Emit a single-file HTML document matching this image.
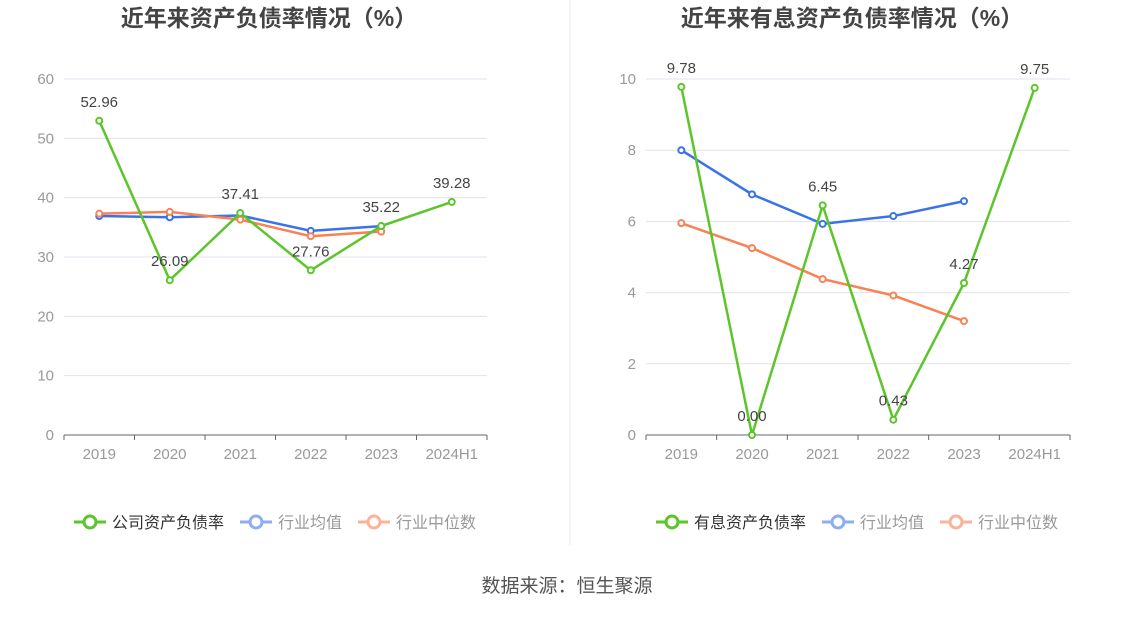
<!DOCTYPE html>
<html><head><meta charset="utf-8"><style>
body{margin:0;background:#fff;font-family:"Liberation Sans","Noto Sans CJK SC",sans-serif;}
svg text{font-family:"Liberation Sans","Noto Sans CJK SC",sans-serif;}
</style></head><body>
<svg id="s" width="1134" height="612" xmlns="http://www.w3.org/2000/svg">
<line x1="570" y1="0" x2="570" y2="545" stroke="#e8e8e8"/>
<text x="567" y="592" text-anchor="middle" font-size="19" fill="#555">数据来源：恒生聚源</text>
</svg>
<script>
const categories=["2019","2020","2021","2022","2023","2024H1"];
const leftMain=[52.96,26.09,37.41,27.76,35.22,39.28];
const leftAvg=[36.9,36.7,37.0,34.4,35.2];
const leftMed=[37.3,37.6,36.3,33.5,34.3];
const leftTicks=[0,10,20,30,40,50,60];
const rightMain=[9.78,0.00,6.45,0.43,4.27,9.75];
const rightAvg=[8.0,6.76,5.93,6.15,6.57];
const rightMed=[5.95,5.25,4.38,3.92,3.2];
const rightTicks=[0,2,4,6,8,10];
const NS="http://www.w3.org/2000/svg";
const svg=document.getElementById('s');
function mk(tag,attrs,parent){const e=document.createElementNS(NS,tag);for(const k in attrs)e.setAttribute(k,attrs[k]);(parent||svg).appendChild(e);return e;}
function panel(p){
  const g=mk('g',{});
  
  
  const y0=435,y1=79,x0=p.x0,x1=p.x1,max=p.ticks[p.ticks.length-1];
  const ys=v=>y0-(v/max)*(y0-y1);
  const step=(x1-x0)/categories.length;
  const xs=i=>x0+step*(i+0.5);
  const t=mk('text',{x:p.titleX,y:26,'text-anchor':'middle','font-size':23,'font-weight':'bold',fill:'#444'},g);
  t.textContent=p.title;
  
  
  p.ticks.forEach(v=>{
    if(v>0){const l=mk('line',{x1:x0,x2:x1,y1:ys(v),y2:ys(v),stroke:'#e0e3ec'},g);
      
      }
    const tt=mk('text',{x:x0-10,y:ys(v)+5,'text-anchor':'end','font-size':15,fill:'#999'},g);
    tt.textContent=v;
    
    
  });
  const ax=mk('line',{x1:x0,x2:x1,y1:y0,y2:y0,stroke:'#666'},g);
  
  
  categories.forEach((c,i)=>{
    mk('line',{x1:x0+step*i,x2:x0+step*i,y1:y0,y2:y0+5,stroke:'#666'},g);
    const tt=mk('text',{x:xs(i),y:459,'text-anchor':'middle','font-size':15,fill:'#999'},g);
    tt.textContent=c;
    
    
  });
  mk('line',{x1:x1,x2:x1,y1:y0,y2:y0+5,stroke:'#666'},g);
  const series=[[p.avg,'#3a72e8','avg'],[p.med,'#fa8153','median'],[p.main,'#5cc52b','main']];
  series.forEach(([d,col,nm])=>{
    const pl=mk('polyline',{points:d.map((v,i)=>xs(i)+','+ys(v)).join(' '),fill:'none',stroke:col,'stroke-width':2.5},g);
    
    
    d.forEach((v,i)=>{
      const c=mk('circle',{cx:xs(i),cy:ys(v),r:3,fill:'#fff',stroke:col,'stroke-width':2},g);
      
      
    });
  });
  p.main.forEach((v,i)=>{
    const tt=mk('text',{x:xs(i),y:ys(v)-14,'text-anchor':'middle','font-size':15,fill:'#444'},g);
    tt.textContent=v.toFixed(2);
    
    
  });
  let lx=p.legX;
  [[p.mainName,'#5cc52b'],['行业均值','#8eaef0'],['行业中位数','#fbb397']].forEach(([n,col],k)=>{
    const lg=mk('g',{},g);
    
    
    mk('line',{x1:lx,x2:lx+32,y1:522,y2:522,stroke:col,'stroke-width':3},lg);
    mk('circle',{cx:lx+16,cy:522,r:6,fill:'#fff',stroke:col,'stroke-width':3},lg);
    const tt=mk('text',{x:lx+38,y:528,'font-size':16,fill:k==0?'#333':'#999'},lg);
    tt.textContent=n;
    lx+=38+n.length*16+16;
  });
}
panel({name:'left-chart',x0:64,x1:487,ticks:leftTicks,main:leftMain,avg:leftAvg,med:leftMed,title:'近年来资产负债率情况（%）',titleX:269,mainName:'公司资产负债率',legX:74});
panel({name:'right-chart',x0:646,x1:1070,ticks:rightTicks,main:rightMain,avg:rightAvg,med:rightMed,title:'近年来有息资产负债率情况（%）',titleX:852,mainName:'有息资产负债率',legX:656});
</script>
</body></html>
